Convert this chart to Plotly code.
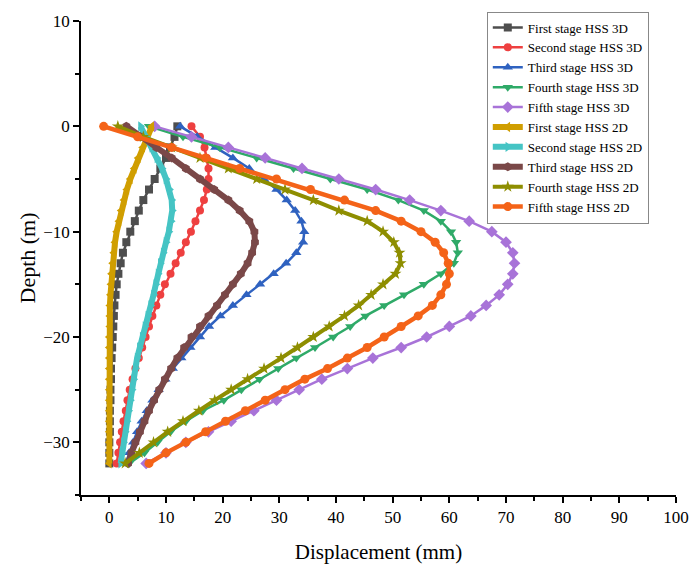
import plotly.graph_objects as go

# Depth below ground surface (m), one reading per metre
depth = [0, -1, -2, -3, -4, -5, -6, -7, -8, -9, -10, -11, -12, -13, -14, -15, -16,
         -17, -18, -19, -20, -21, -22, -23, -24, -25, -26, -27, -28, -29, -30, -31, -32]

# Lateral wall displacement (mm), 3D HSS analysis
first_3d = [12.0, 11.5, 10.7, 10.0, 9.0, 8.0, 7.0, 6.0, 5.2, 4.5, 3.7, 3.0, 2.4, 2.0, 1.6, 1.3, 1.1,
            0.9, 0.8, 0.7, 0.6, 0.5, 0.4, 0.3, 0.3, 0.2, 0.2, 0.1, 0.1, 0.1, 0.0, 0.0, 0.0]
second_3d = [14.5, 16.0, 16.8, 17.2, 17.5, 17.5, 17.2, 16.7, 16.0, 15.2, 14.4, 13.5, 12.6, 11.7, 10.8, 9.8, 9.0,
             8.3, 7.6, 7.0, 6.4, 5.8, 5.2, 4.6, 4.1, 3.6, 3.2, 2.9, 2.5, 2.2, 1.9, 1.6, 1.3]
third_3d = [12.5, 15.5, 18.7, 21.8, 24.7, 27.3, 29.5, 31.3, 32.8, 33.9, 34.4, 34.2, 33.0, 31.2, 29.0, 26.6, 24.2,
            21.8, 19.6, 17.6, 16.0, 14.3, 12.7, 11.2, 9.9, 8.7, 7.6, 6.6, 5.7, 4.9, 4.2, 3.5, 2.9]
fourth_3d = [7.0, 13.0, 19.5, 26.0, 32.5, 39.0, 45.5, 51.0, 55.5, 58.5, 60.3, 61.2, 61.5, 60.8, 58.5, 55.5, 52.0,
             48.5, 45.2, 42.5, 39.5, 36.3, 33.0, 29.8, 26.5, 23.3, 20.2, 16.5, 13.5, 10.8, 8.5, 6.2, 3.5]
fifth_3d = [8.0, 14.5, 21.0, 27.5, 34.0, 40.5, 47.0, 53.0, 58.5, 63.5, 67.5, 70.0, 71.2, 71.5, 71.2, 70.3, 68.8,
            66.5, 63.8, 60.0, 56.0, 51.5, 46.5, 42.0, 37.5, 33.5, 29.5, 25.5, 21.5, 17.5, 13.5, 10.0, 6.5]

# Lateral wall displacement (mm), 2D HSS analysis
first_2d = [7.5, 6.7, 5.9, 5.1, 4.4, 3.7, 3.1, 2.6, 2.1, 1.7, 1.3, 1.0, 0.8, 0.6, 0.4, 0.3, 0.2,
            0.1, 0.1, 0.1, 0.0, 0.0, 0.0, 0.0, 0.0, 0.0, 0.0, 0.0, 0.0, 0.0, 0.0, 0.0, 0.0]
second_2d = [5.5, 6.5, 7.5, 8.4, 9.3, 10.0, 10.6, 11.0, 11.1, 10.9, 10.5, 10.0, 9.5, 9.0, 8.6, 8.2, 7.8,
             7.3, 6.8, 6.3, 5.8, 5.3, 4.9, 4.6, 4.3, 4.0, 3.7, 3.4, 3.1, 2.8, 2.5, 2.2, 2.0]
third_2d = [3.0, 5.5, 8.3, 11.0, 13.5, 16.0, 18.5, 21.0, 23.0, 24.7, 25.6, 25.7, 25.2, 24.4, 23.2, 21.8, 20.4,
            19.0, 17.5, 16.0, 14.5, 13.2, 12.0, 10.9, 9.8, 8.8, 7.9, 7.0, 6.2, 5.4, 4.6, 3.9, 3.3]
fourth_2d = [1.5, 6.0, 11.0, 16.0, 21.0, 26.0, 31.0, 36.0, 40.5, 45.5, 48.3, 50.2, 51.2, 51.4, 50.5, 48.3, 46.2,
             44.0, 41.5, 38.8, 36.0, 33.2, 30.3, 27.3, 24.4, 21.5, 18.6, 15.8, 13.0, 10.3, 7.8, 5.3, 2.8]
fifth_2d = [-1.0, 5.0, 11.0, 17.0, 23.0, 29.5, 35.5, 41.5, 47.0, 51.5, 55.0, 57.5, 59.0, 59.8, 60.0, 59.5, 58.5,
            57.0, 54.5, 51.5, 48.5, 45.5, 42.0, 38.5, 34.5, 31.0, 27.5, 24.0, 20.5, 17.0, 13.5, 10.0, 7.0]

series = [
    ("First stage HSS 3D", first_3d, "#4E4E4E", "square", 2.5, 8),
    ("Second stage HSS 3D", second_3d, "#EE4040", "circle", 2.5, 8),
    ("Third stage HSS 3D", third_3d, "#2F62C0", "triangle-up", 2.5, 9),
    ("Fourth stage HSS 3D", fourth_3d, "#2FAA68", "triangle-down", 2.5, 9),
    ("Fifth stage HSS 3D", fifth_3d, "#A873D8", "diamond", 2.5, 9),
    ("First stage HSS 2D", first_2d, "#D09E00", "triangle-left", 6.0, 9),
    ("Second stage HSS 2D", second_2d, "#45C4C4", "triangle-right", 6.0, 9),
    ("Third stage HSS 2D", third_2d, "#7A4848", "hexagon", 6.0, 9),
    ("Fourth stage HSS 2D", fourth_2d, "#8E8E00", "star", 4.0, 9),
    ("Fifth stage HSS 2D", fifth_2d, "#F46318", "circle", 4.5, 9),
]

fig = go.Figure()
for name, values, color, symbol, width, msize in series:
    fig.add_trace(go.Scatter(
        x=values, y=depth, name=name, mode="lines+markers",
        line=dict(color=color, width=width),
        marker=dict(symbol=symbol, size=msize, color=color, line=dict(width=0)),
    ))

serif = "Liberation Serif, Times New Roman, serif"
axis_common = dict(
    showline=True, linecolor="black", linewidth=1.5, mirror=False,
    ticks="outside", ticklen=6, tickwidth=1.5, tickcolor="black",
    showgrid=False, zeroline=False, automargin=False,
    tickfont=dict(family=serif, size=17, color="black"),
)

fig.update_layout(
    width=691, height=575,
    margin=dict(l=81, r=15, t=15, b=80),
    paper_bgcolor="white", plot_bgcolor="white",
    font=dict(family=serif, color="black"),
    xaxis=dict(
        range=[-5, 100], tick0=0, dtick=10,
        minor=dict(dtick=5, ticks="outside", ticklen=4, tickwidth=1.5, tickcolor="black"),
        title=dict(text="Displacement (mm)", font=dict(family=serif, size=21), standoff=18),
        **axis_common,
    ),
    yaxis=dict(
        range=[-35, 10], tick0=0, dtick=10,
        minor=dict(dtick=5, ticks="outside", ticklen=4, tickwidth=1.5, tickcolor="black"),
        title=dict(text="Depth (m)", font=dict(family=serif, size=22), standoff=2),
        **axis_common,
    ),
    legend=dict(
        x=0.682, y=1.02, xanchor="left", yanchor="top",
        bgcolor="white", bordercolor="#888888", borderwidth=1,
        font=dict(family=serif, size=13, color="black"),
        tracegroupgap=0, itemwidth=30,
    ),
    showlegend=True,
)

fig.write_html("out.html")
